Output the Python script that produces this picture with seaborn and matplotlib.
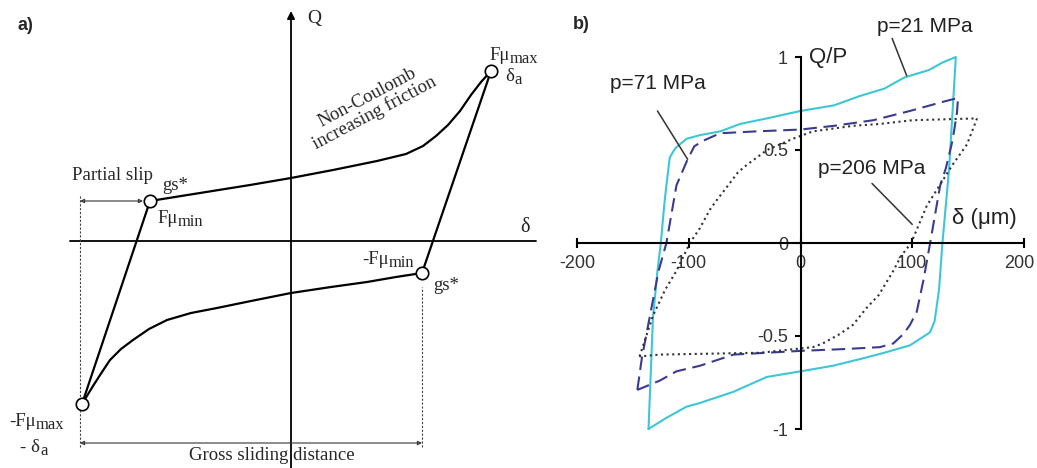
import matplotlib
matplotlib.use("Agg")
import matplotlib.pyplot as plt
import matplotlib.transforms as mtransforms
import pandas as pd
import seaborn as sns

sns.set_theme(style="ticks")
plt.rcParams["font.family"] = ["Liberation Sans", "DejaVu Sans"]

# ---------------- panel a: schematic fretting loop (δ, Q in arbitrary units) ----------------
upper_x = [-141, -91, -41, 0, 42, 86, 115, 132, 145, 157, 169, 180, 190, 200]
upper_y = [40, 48, 56, 63, 71, 80, 87, 95, 105, 116, 130, 146, 159, 170]
lower_x = [-209, -198, -189, -181, -170, -158, -142, -124, -100, -74, -40, 0, 40, 76, 105, 131]
lower_y = [-163, -145, -131, -119, -108, -99, -88, -79, -72, -67, -60, -52, -46, -41, -36, -32]
# corner points: -Fμmax/-δa, Fμmin/gs*, Fμmax/δa, -Fμmin/gs*
corner_x = [-209, -141, 200, 131]
corner_y = [-163, 40, 170, -32]

# ---------------- panel b: measured loops, δ (µm) vs Q/P ----------------
p21_x = [-136, -134, -132, -128, -125, -122, -120, -117, -112, -102, -90, -72, -54, -30, 0,
         30, 53, 75, 93, 115, 127, 139, 137, 135, 133, 130, 127, 124, 120, 116, 98, 75, 56,
         29, 0, -30, -60, -90, -102, -120, -136]
p21_y = [-1.0, -0.70, -0.40, -0.15, 0.0, 0.20, 0.31, 0.46, 0.51, 0.56, 0.58, 0.60, 0.64, 0.67, 0.71,
         0.74, 0.79, 0.83, 0.89, 0.93, 0.97, 1.0, 0.80, 0.60, 0.40, 0.20, 0.0, -0.25, -0.42, -0.48,
         -0.55, -0.59, -0.62, -0.66, -0.69, -0.72, -0.80, -0.86, -0.88, -0.94, -1.0]

p71_x = [-146, -142, -135, -127, -120, -111, -101, -95, -87, -72, -40, 0, 30, 65, 98, 128, 141,
         140, 136, 130, 125, 116, 110, 104, 98, 92, 83, 71, 40, 0, -60, -90, -111, -126, -146]
p71_y = [-0.79, -0.62, -0.40, -0.15, 0.0, 0.31, 0.45, 0.52, 0.55, 0.59, 0.60, 0.61, 0.63, 0.66,
         0.71, 0.76, 0.78, 0.70, 0.55, 0.40, 0.31, 0.0, -0.20, -0.37, -0.44, -0.49, -0.54, -0.56,
         -0.57, -0.58, -0.60, -0.66, -0.69, -0.74, -0.79]

p206_x = [-144, -138, -132, -121, -111, -99, -90, -81, -75, -66, -56, -48, -30, -7, 11, 47, 71,
          100, 158, 149, 136, 113, 99, 90, 83, 70, 59, 47, 35, 20, 11, -36, -126, -144]
p206_y = [-0.61, -0.50, -0.39, -0.25, -0.15, 0.0, 0.08, 0.18, 0.23, 0.30, 0.38, 0.42, 0.50, 0.56,
          0.60, 0.63, 0.64, 0.66, 0.67, 0.53, 0.42, 0.20, 0.0, -0.07, -0.15, -0.28, -0.35, -0.44,
          -0.49, -0.54, -0.56, -0.59, -0.60, -0.61]

pressures = ["p=21 MPa", "p=71 MPa", "p=206 MPa"]
x_ticks = [-200, -100, 0, 100, 200]
x_ticklabels = ["-200", "-100", "0", "100", "200"]
y_ticks = [-1, -0.5, 0, 0.5, 1]
y_ticklabels = ["-1", "-0.5", "0", "0.5", "1"]

loops = pd.concat([
    pd.DataFrame({"delta": p21_x, "qp": p21_y, "p": pressures[0]}),
    pd.DataFrame({"delta": p71_x, "qp": p71_y, "p": pressures[1]}),
    pd.DataFrame({"delta": p206_x, "qp": p206_y, "p": pressures[2]}),
], ignore_index=True)

W, H = 1037, 468
fig = plt.figure(figsize=(W / 100, H / 100), dpi=100)
fig.patch.set_facecolor("white")

# ======================= panel a =======================
ax_a = fig.add_axes([0, 0, 540 / W, 1])
ax_a.set_xlim(-291, 249)
ax_a.set_ylim(-227, 241)
ax_a.axis("off")

serif = ["Liberation Serif", "DejaVu Serif"]
fs_a = 13.5


def sub_label(x, y, main, sub):
    """Serif label with a slightly smaller, lowered suffix (e.g. Fμ + max)."""
    t = ax_a.text(x, y, main, family=serif, fontsize=fs_a, ha="left", va="baseline")
    ax_a.annotate(sub, xy=(1, y), xycoords=(t, "data"), xytext=(0.3, -2.5),
                  textcoords="offset points", family=serif, fontsize=fs_a * 0.88,
                  ha="left", va="baseline")


# coordinate axes
ax_a.plot([-221, 245], [0, 0], color="black", lw=1.3)
ax_a.annotate("", xy=(0, 230), xytext=(0, -227),
              arrowprops=dict(arrowstyle="-|>", color="black", lw=1.3,
                              mutation_scale=11, shrinkA=0, shrinkB=0))

# dotted guides
ax_a.plot([-211, -211], [-206, 46], color="#444444", lw=0.8, ls=(0, (2, 1.5)))
ax_a.plot([131, 131], [-206, -46], color="#444444", lw=0.8, ls=(0, (2, 1.5)))

# dimension arrows
ax_a.annotate("", xy=(-148, 40), xytext=(-211, 40),
              arrowprops=dict(arrowstyle="<|-|>", color="#333333", lw=0.8,
                              mutation_scale=6, shrinkA=0, shrinkB=0, fill=False))
ax_a.annotate("", xy=(131, -202), xytext=(-211, -202),
              arrowprops=dict(arrowstyle="<|-|>", color="#333333", lw=0.8,
                              mutation_scale=6, shrinkA=0, shrinkB=0, fill=False))

# loop branches
sns.lineplot(x=upper_x, y=upper_y, sort=False, estimator=None, color="black", lw=1.6, ax=ax_a)
sns.lineplot(x=lower_x, y=lower_y, sort=False, estimator=None, color="black", lw=1.6, ax=ax_a)
sns.lineplot(x=[corner_x[0], corner_x[1]], y=[corner_y[0], corner_y[1]], sort=False,
             estimator=None, color="black", lw=1.6, ax=ax_a)
sns.lineplot(x=[corner_x[3], corner_x[2]], y=[corner_y[3], corner_y[2]], sort=False,
             estimator=None, color="black", lw=1.6, ax=ax_a)
ax_a.scatter(corner_x, corner_y, s=80, facecolor="white", edgecolor="black",
             linewidth=1.2, zorder=5)

# labels
ax_a.text(-274, 215, "a)", fontsize=13, fontweight="bold", ha="left", va="center")
ax_a.text(16, 222, "Q", family=serif, fontsize=fs_a + 0.5, ha="left", va="center")
ax_a.text(229, 13, "δ", family=serif, fontsize=fs_a + 1, ha="left", va="center")
sub_label(198, 181, "Fμ", "max")
sub_label(214, 160, "δ", "a")
ax_a.text(80, 136, "Non-Coulomb\nincreasing friction", family=serif, fontsize=fs_a,
          ha="center", va="center", rotation=28, rotation_mode="anchor", linespacing=1.0)
ax_a.text(-219, 66, "Partial slip", family=serif, fontsize=fs_a, ha="left", va="center")
ax_a.text(-129, 56, "gs*", family=serif, fontsize=fs_a, ha="left", va="center")
sub_label(-134, 18, "Fμ", "min")
sub_label(71, -23, "-Fμ", "min")
ax_a.text(142, -44, "gs*", family=serif, fontsize=fs_a, ha="left", va="center")
sub_label(-282, -185, "-Fμ", "max")
sub_label(-271, -211, "- δ", "a")
ax_a.text(-19, -214, "Gross sliding distance", family=serif, fontsize=fs_a,
          ha="center", va="center")

# ======================= panel b =======================
ax_b = fig.add_axes([577 / W, 39 / H, 447 / W, 372 / H])
ax_b.set_facecolor("none")
palette = {pressures[0]: "#3ec6d6", pressures[1]: "#3b3b90", pressures[2]: "#333333"}
dashes = {pressures[0]: "", pressures[1]: (6.5, 3.2), pressures[2]: (1, 1.7)}
sns.lineplot(data=loops, x="delta", y="qp", hue="p", style="p", palette=palette,
             dashes=dashes, sort=False, estimator=None, lw=1.5, legend=False, ax=ax_b)
for ln in ax_b.lines:
    ln.set_clip_on(False)

ax_b.set_xlim(-200, 200)
ax_b.set_ylim(-1, 1)
ax_b.set_xlabel("")
ax_b.set_ylabel("")
for side in ("top", "right"):
    ax_b.spines[side].set_visible(False)
for side in ("left", "bottom"):
    ax_b.spines[side].set_position(("data", 0))
    ax_b.spines[side].set_linewidth(1.5)
    ax_b.spines[side].set_color("black")
ax_b.set_xticks(x_ticks)
ax_b.set_xticklabels(x_ticklabels)
ax_b.set_yticks(y_ticks)
ax_b.set_yticklabels(y_ticklabels)
ax_b.tick_params(axis="x", direction="inout", length=7, width=1.5, pad=5,
                 labelsize=13, labelcolor="#333333", color="black")
ax_b.tick_params(axis="y", direction="out", length=4, width=1.5, pad=5,
                 labelsize=13, labelcolor="#333333", color="black")
# nudge the right-most x label inward so it stays on the canvas
last = ax_b.get_xticklabels()[-1]
last.set_transform(last.get_transform()
                   + mtransforms.ScaledTranslation(-5 / 100, 0, fig.dpi_scale_trans))

ax_b.text(8, 1.0, "Q/P", fontsize=16, color="#222222", ha="left", va="center")
ax_b.text(136, 0.13, "δ (μm)", fontsize=16, color="#222222", ha="left", va="center")
ax_b.text(-204, 1.175, "b)", fontsize=13, fontweight="bold", ha="left", va="center")

ax_b.text(111, 1.165, pressures[0], fontsize=15, color="#222222", ha="center", va="center")
ax_b.text(-128, 0.86, pressures[1], fontsize=15, color="#222222", ha="center", va="center")
ax_b.text(64, 0.40, pressures[2], fontsize=15, color="#222222", ha="center", va="center")
ax_b.plot([82, 95], [1.10, 0.90], color="#333333", lw=1.1, clip_on=False)
ax_b.plot([-128, -101], [0.71, 0.45], color="#333333", lw=1.1, clip_on=False)
ax_b.plot([64, 100], [0.32, 0.10], color="#333333", lw=1.1, clip_on=False)

fig.savefig("out.png", dpi=100, facecolor="white")
